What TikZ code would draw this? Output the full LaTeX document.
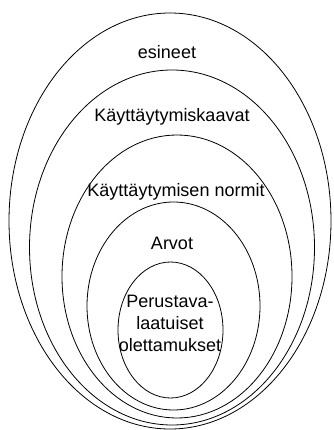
\documentclass[tikz,border=0pt]{standalone}
\usepackage{fontspec}
\setmainfont{Liberation Sans}
\usetikzlibrary{shapes.geometric}

\begin{document}
\begin{tikzpicture}[
    x=1pt, y=-1pt,
    ring/.style={
        ellipse,
        draw=black,
        line width=0.8pt,
        inner sep=0pt
    },
    lbl/.style={
        align=center,
        font=\fontsize{18}{22}\selectfont,
        inner sep=0pt
    }
]

\useasboundingbox (0,0) rectangle (333,430);

% ============================================================
% LAYERS — OUTERMOST TO INNERMOST
% ============================================================

\node[ring, minimum width=322pt, minimum height=416pt] (layerone) at (170,221) {};
\node[ring, minimum width=285pt, minimum height=355pt] (layertwo) at (172,247.5) {};
\node[ring, minimum width=230pt, minimum height=283pt] (layerthree) at (177,276.5) {};
\node[ring, minimum width=173pt, minimum height=208pt] (layerfour) at (173.5,306) {};
\node[ring, minimum width=105pt, minimum height=136pt] (layerfive) at (170.5,330) {};

% ============================================================
% LABELS
% ============================================================

\node[lbl] (esineet) at (167,52) {esineet};
\node[lbl] (kaavat) at (172,117) {Käyttäytymiskaavat};
\node[lbl] (normit) at (176,192) {Käyttäytymisen normit};
\node[lbl] (arvot) at (172,243) {Arvot};
\node[lbl] (oletukset) at (170,323) {Perustava-\\laatuiset\\olettamukset};

\end{tikzpicture}
\end{document}
